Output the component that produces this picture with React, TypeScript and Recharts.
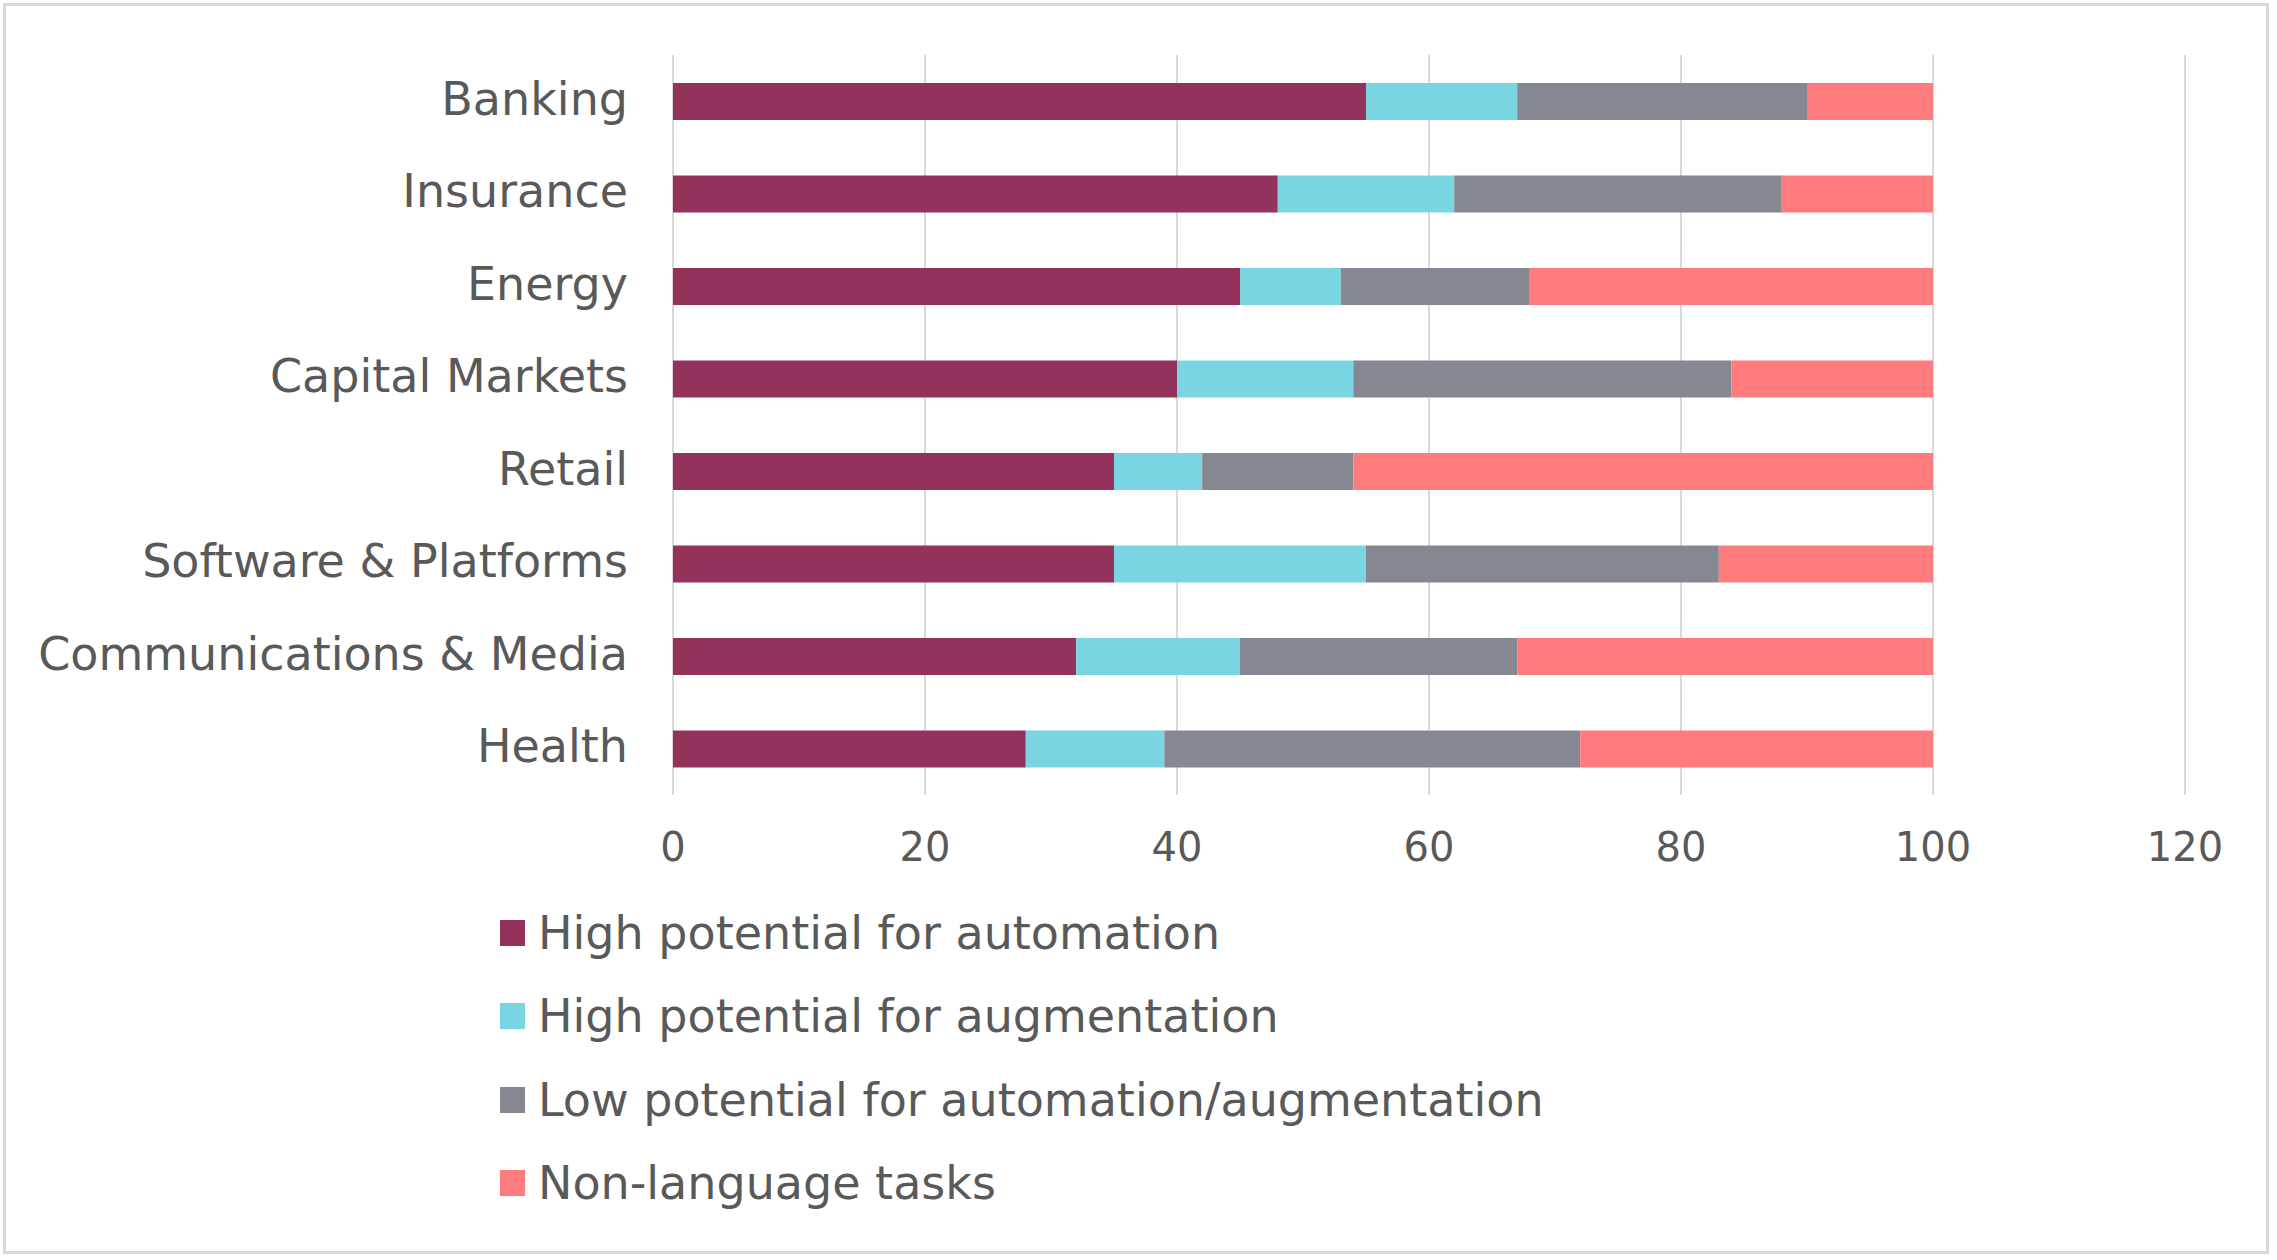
import React from 'react';
import { BarChart, Bar, XAxis, YAxis, CartesianGrid, Legend } from 'recharts';

const categories = [
  'Banking',
  'Insurance',
  'Energy',
  'Capital Markets',
  'Retail',
  'Software & Platforms',
  'Communications & Media',
  'Health',
];
const automation = [55, 48, 45, 40, 35, 35, 32, 28];
const augmentation = [12, 14, 8, 14, 7, 20, 13, 11];
const lowPotential = [23, 26, 15, 30, 12, 28, 22, 33];
const nonLanguage = [10, 12, 32, 16, 46, 17, 33, 28];
const xTicks = [0, 20, 40, 60, 80, 100, 120];

const seriesNames = [
  'High potential for automation',
  'High potential for augmentation',
  'Low potential for automation/augmentation',
  'Non-language tasks',
];
const seriesColors = ['#93335B', '#79D5E2', '#868891', '#FF7B7E'];

const data = categories.map((c, i) => ({
  name: c,
  a: automation[i],
  b: augmentation[i],
  c: lowPotential[i],
  d: nonLanguage[i],
}));

const FONT = '"DejaVu Sans", sans-serif';
const TEXT = '#595959';

const LegendContent = () => (
  <div style={{ fontFamily: FONT }}>
    {seriesNames.map((n, i) => (
      <div key={n} style={{ display: 'flex', alignItems: 'center', height: 83.5 }}>
        <div style={{ width: 25, height: 26, background: seriesColors[i], marginRight: 13 }} />
        <span style={{ fontSize: 46, color: TEXT, whiteSpace: 'nowrap' }}>{n}</span>
      </div>
    ))}
  </div>
);

export default function App() {
  return (
    <div style={{ position: 'absolute', left: 0, top: 0, width: 2277, height: 1260, background: '#fff' }}>
      <div
        style={{
          position: 'absolute',
          left: 3,
          top: 3,
          width: 2266,
          height: 1251,
          border: '3px solid #d9d9d9',
          boxSizing: 'border-box',
        }}
      />
      <BarChart
        width={2277}
        height={1260}
        data={data}
        layout="vertical"
        margin={{ top: 55, right: 92, bottom: 405, left: 0 }}
        barSize={37}
      >
        <CartesianGrid horizontal={false} vertical stroke="#d9d9d9" strokeWidth={2} />
        <XAxis
          type="number"
          domain={[0, 120]}
          ticks={xTicks}
          axisLine={false}
          tickLine={false}
          tickSize={0}
          tickMargin={38}
          height={60}
          interval={0}
          tick={{ fill: TEXT, fontSize: 40, fontFamily: FONT }}
        />
        <YAxis
          type="category"
          dataKey="name"
          width={673}
          axisLine={false}
          tickLine={false}
          tickSize={0}
          tickMargin={45}
          interval={0}
          tick={{ fill: TEXT, fontSize: 46, fontFamily: FONT, dy: -3 }}
        />
        <Legend
          layout="vertical"
          align="center"
          verticalAlign="middle"
          wrapperStyle={{ position: 'absolute', left: 500, top: 891, width: 1300 }}
          content={() => <LegendContent />}
        />
        <Bar dataKey="a" name={seriesNames[0]} stackId="s" fill={seriesColors[0]} isAnimationActive={false} />
        <Bar dataKey="b" name={seriesNames[1]} stackId="s" fill={seriesColors[1]} isAnimationActive={false} />
        <Bar dataKey="c" name={seriesNames[2]} stackId="s" fill={seriesColors[2]} isAnimationActive={false} />
        <Bar dataKey="d" name={seriesNames[3]} stackId="s" fill={seriesColors[3]} isAnimationActive={false} />
      </BarChart>
    </div>
  );
}
